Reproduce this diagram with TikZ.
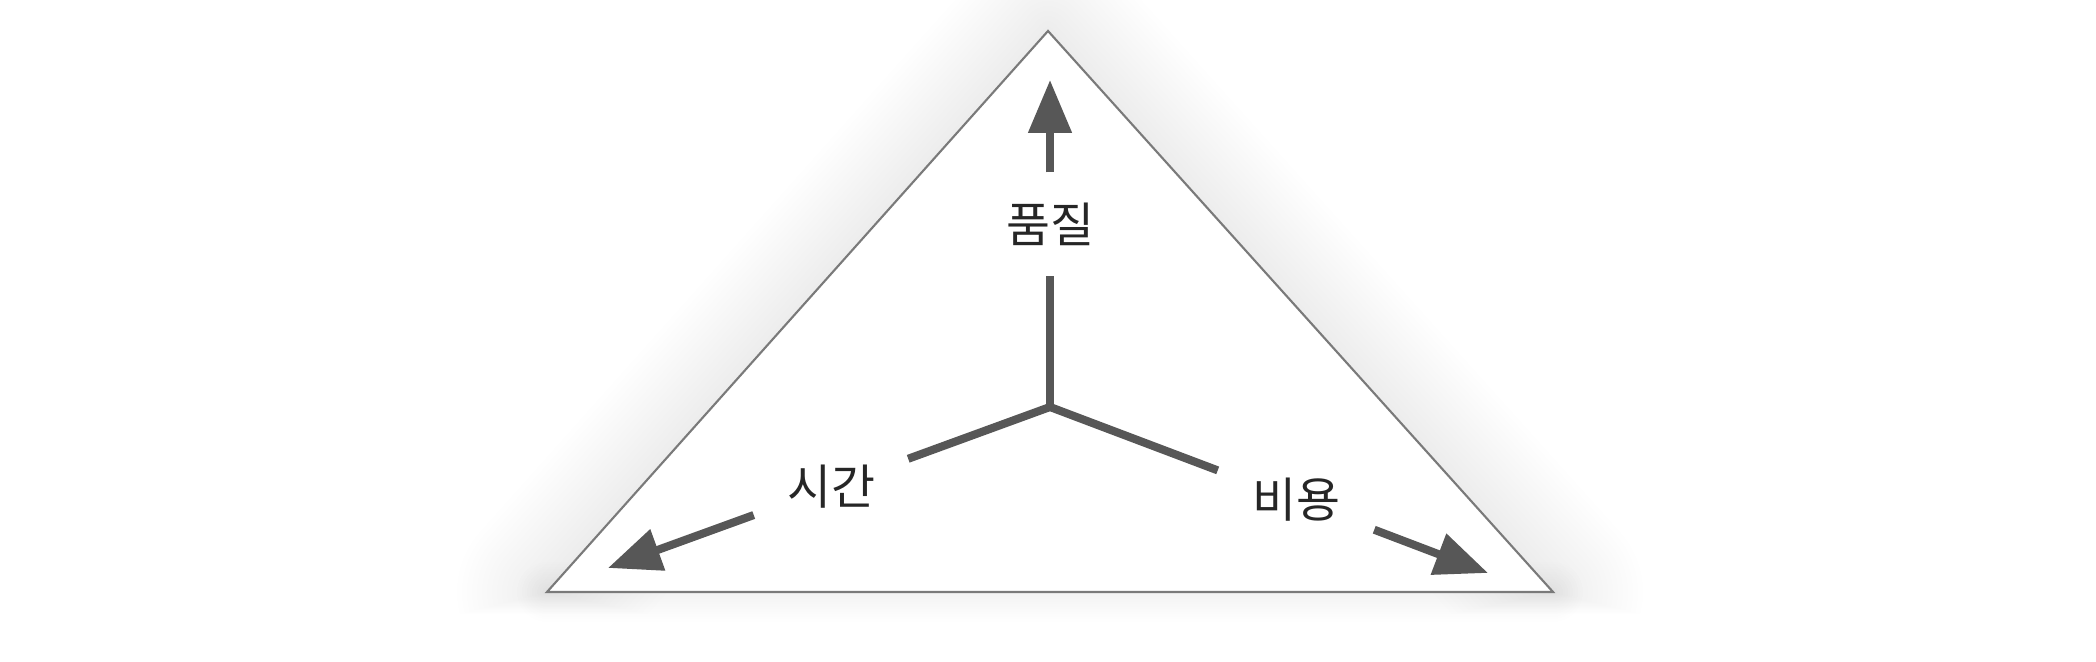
\documentclass[tikz,border=0pt]{standalone}
\usepackage{fontspec}
\newfontfamily\kofont{Noto Sans CJK KR}
\usetikzlibrary{arrows.meta}
\definecolor{axisgray}{HTML}{575757}
\definecolor{edgegray}{HTML}{7a7a7a}

\tikzset{
  axisline/.style={line width=2.3pt, axisgray},
  axisarrow/.style={axisline, -{Triangle[length=5.3mm,width=4.2mm]}},
  lbl/.style={circle, inner sep=0pt, text=black!85,
    font=\kofont\fontsize{13.6pt}{15pt}\selectfont},
  glow/.style={black, opacity=0.004, line join=round, line cap=round},
}

\begin{document}
\begin{tikzpicture}
% \draw[step=1cm,gray,very thin] (0,0) grid (21,7);
\useasboundingbox (0,0) rectangle (20.96,6.62);

% soft shadow round the triangle, fainter under the base
\foreach \w in {1,...,18}{
  \begin{scope}
    \clip (0,0.70-0.012*\w) rectangle (20.96,6.62);
    \draw[glow, line width=\w mm] (5.47,0.70) -- (10.48,6.31) -- (15.53,0.70);
  \end{scope}
}
\foreach \w in {1,...,12}
  \draw[glow, opacity=0.002, line width=0.5*\w mm] (5.47,0.70) -- (15.53,0.70);
\filldraw[fill=white, draw=edgegray, line width=0.6pt] (10.48,6.31) -- (5.47,0.70) -- (15.53,0.70) -- cycle;

\coordinate (c) at (10.50,2.55);
\coordinate (qualtip) at (10.50,5.82);
\coordinate (timetip) at (6.08,0.94);
\coordinate (costtip) at (14.88,0.89);

\node[lbl, minimum size=1.02cm] (qual) at (10.50,4.38) {품질};
\node[lbl, minimum size=1.63cm] (time) at (8.31,1.75) {시간};
\node[lbl, minimum size=1.66cm] (cost) at (12.96,1.62) {비용};

\draw[axisline] (c) -- (qual);
\draw[axisline] (c) -- (time);
\draw[axisline] (c) -- (cost);
\draw[axisarrow] (qual) -- (qualtip);
\draw[axisarrow] (time) -- (timetip);
\draw[axisarrow] (cost) -- (costtip);
\end{tikzpicture}
\end{document}
